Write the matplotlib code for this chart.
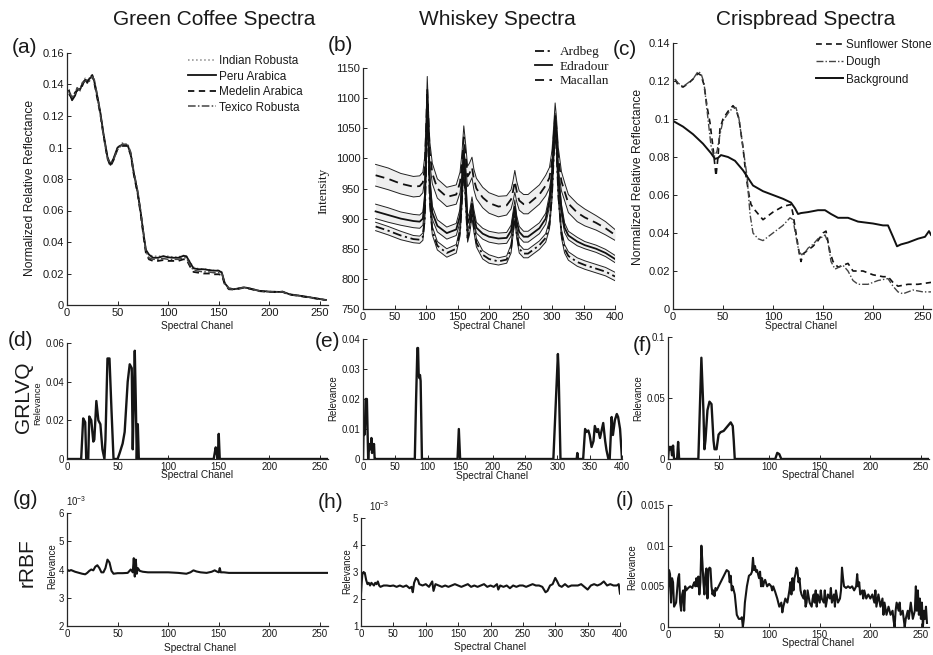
import matplotlib
matplotlib.use('Agg')
import matplotlib.pyplot as plt
from matplotlib.ticker import FuncFormatter

plt.rcParams['font.family'] = ['Liberation Sans', 'DejaVu Sans']
plt.rcParams['mathtext.fontset'] = 'custom'
plt.rcParams['mathtext.rm'] = 'Liberation Sans'
plt.rcParams['mathtext.it'] = 'Liberation Sans:italic'

# ---------------- data: (a) green coffee spectra ----------------
coffee_x = [2, 5, 8, 10, 13, 15, 18, 20, 22, 25, 27, 30, 33, 36, 40, 43, 46, 50, 55, 60,
            63, 66, 70, 73, 76, 78, 81, 85, 90, 95, 100, 105, 110, 115, 118, 122, 125, 130, 135, 140,
            145, 150, 153, 156, 160, 165, 170, 175, 180, 190, 200, 210, 213, 220, 230, 240, 250, 256]
indian_robusta = [0.137, 0.131, 0.134, 0.138, 0.137, 0.141, 0.144, 0.142, 0.144, 0.146,
                  0.142, 0.133, 0.122, 0.109, 0.094, 0.089, 0.093, 0.100, 0.103, 0.102,
                  0.096, 0.084, 0.071, 0.058, 0.044, 0.035, 0.032, 0.031, 0.031, 0.031,
                  0.031, 0.0305, 0.0305, 0.0315, 0.031, 0.027, 0.024, 0.023, 0.023, 0.0225,
                  0.022, 0.022, 0.021, 0.014, 0.0107, 0.0101, 0.0107, 0.0113, 0.0107, 0.0091,
                  0.0086, 0.0084, 0.0086, 0.0069, 0.006, 0.005, 0.0039, 0.0033]
peru_arabica = [0.136, 0.130, 0.133, 0.137, 0.137, 0.140, 0.143, 0.142, 0.1435, 0.1455,
                0.142, 0.1325, 0.122, 0.109, 0.094, 0.089, 0.093, 0.100, 0.102, 0.1013,
                0.096, 0.084, 0.071, 0.058, 0.0435, 0.035, 0.032, 0.030, 0.030, 0.031,
                0.0303, 0.030, 0.030, 0.0312, 0.031, 0.0265, 0.0233, 0.0227, 0.0227, 0.0222,
                0.0218, 0.0218, 0.0206, 0.0138, 0.0106, 0.010, 0.0106, 0.0112, 0.0106, 0.009,
                0.0085, 0.0083, 0.0085, 0.0068, 0.0059, 0.0049, 0.0038, 0.0032]
medelin_arabica = [0.134, 0.131, 0.135, 0.136, 0.138, 0.139, 0.144, 0.141, 0.144, 0.146,
                   0.141, 0.131, 0.121, 0.108, 0.093, 0.088, 0.092, 0.099, 0.101, 0.101,
                   0.095, 0.083, 0.070, 0.057, 0.042, 0.033, 0.029, 0.028, 0.028, 0.0285,
                   0.028, 0.028, 0.028, 0.029, 0.029, 0.024, 0.021, 0.0205, 0.020, 0.020,
                   0.0195, 0.0195, 0.019, 0.013, 0.010, 0.0098, 0.0103, 0.011, 0.0104, 0.0088,
                   0.0083, 0.0081, 0.0083, 0.0066, 0.0057, 0.0047, 0.0037, 0.0031]
texico_robusta = [0.135, 0.132, 0.134, 0.138, 0.136, 0.141, 0.142, 0.143, 0.142, 0.145,
                  0.143, 0.133, 0.121, 0.108, 0.093, 0.090, 0.092, 0.099, 0.102, 0.102,
                  0.097, 0.085, 0.072, 0.059, 0.044, 0.034, 0.030, 0.029, 0.029, 0.0295,
                  0.029, 0.029, 0.029, 0.030, 0.030, 0.025, 0.022, 0.0215, 0.021, 0.021,
                  0.0205, 0.0205, 0.020, 0.0135, 0.0104, 0.0099, 0.0105, 0.0111, 0.0105, 0.0089,
                  0.0084, 0.0082, 0.0084, 0.0067, 0.0058, 0.0048, 0.0037, 0.0031]

# ---------------- data: (b) whiskey spectra (mean and spread) ----------------
whisky_x = [20, 40, 60, 80, 90, 95, 98, 100, 102, 104,
            106, 110, 118, 133, 148, 154, 157, 160, 163, 166,
            169, 173, 176, 180, 190, 200, 215, 228, 235, 238,
            241, 244, 248, 255, 262, 280, 290, 296, 300, 303,
            305, 307, 310, 315, 320, 326, 340, 352, 370, 385, 400]
macallan_mean = [972, 966, 958, 953, 954, 960, 985, 1040, 1115, 1060,
                 1010, 975, 950, 936, 940, 960, 990, 1035, 1005, 970,
                 975, 985, 965, 950, 935, 926, 920, 922, 932, 945,
                 962, 945, 930, 924, 924, 940, 955, 968, 995, 1040,
                 1072, 1050, 1000, 962, 945, 925, 910, 902, 893, 884, 873]
macallan_std = [18, 18, 17, 17, 17, 17, 18, 19, 21, 19,
                18, 17, 16, 16, 16, 17, 18, 19, 18, 17,
                17, 17, 17, 17, 17, 17, 17, 16, 16, 17,
                18, 17, 16, 16, 16, 16, 17, 17, 18, 19,
                20, 19, 18, 16, 15, 15, 15, 14, 12, 11, 9]
edradour_mean = [912, 906, 900, 896, 895, 900, 930, 1000, 1100, 1030,
                 960, 910, 888, 876, 882, 905, 955, 1010, 960, 892,
                 900, 925, 905, 885, 875, 870, 867, 868, 880, 900,
                 920, 895, 878, 870, 870, 884, 900, 930, 970, 1030,
                 1062, 1040, 970, 915, 885, 872, 862, 856, 850, 843, 833]
edradour_std = [12, 12, 11, 11, 11, 11, 12, 13, 14, 13,
                12, 11, 10, 10, 10, 11, 12, 13, 12, 10,
                10, 11, 10, 9, 9, 9, 9, 9, 9, 10,
                11, 10, 9, 9, 9, 9, 9, 10, 11, 12,
                13, 12, 11, 9, 8, 7, 7, 6, 6, 6, 6]
ardbeg_mean = [887, 880, 872, 866, 865, 870, 900, 980, 1085, 1010,
               930, 880, 855, 843, 850, 878, 930, 990, 930, 868,
               880, 910, 885, 860, 840, 833, 829, 832, 850, 878,
               905, 875, 850, 842, 842, 856, 868, 890, 940, 1010,
               1048, 1020, 940, 875, 850, 838, 828, 823, 817, 812, 804]
ardbeg_std = [7, 7, 7, 6, 6, 6, 7, 8, 9, 8,
              7, 7, 7, 7, 7, 7, 8, 8, 8, 7,
              7, 7, 7, 7, 7, 7, 6, 6, 7, 7,
              8, 7, 7, 7, 7, 7, 7, 7, 8, 8,
              9, 8, 8, 7, 7, 7, 7, 7, 7, 7, 7]

# ---------------- data: (c) crispbread spectra ----------------
stone_x = [2, 5, 10, 15, 20, 25, 28, 31, 34, 37, 40, 43, 45, 47, 50, 55, 60, 63, 66, 70,
           73, 76, 78, 82, 90, 95, 100, 110, 118, 120, 123, 126, 128, 130, 135, 140, 145, 150, 153, 157,
           160, 165, 170, 175, 180, 190, 200, 210, 215, 220, 225, 235, 245, 258]
stone_y = [0.121, 0.118, 0.1168, 0.1186, 0.121, 0.124, 0.123, 0.118, 0.1067, 0.098,
           0.085, 0.070, 0.080, 0.095, 0.100, 0.104, 0.107, 0.105, 0.100, 0.085,
           0.070, 0.060, 0.055, 0.052, 0.047, 0.049, 0.051, 0.054, 0.055, 0.050,
           0.040, 0.030, 0.025, 0.029, 0.031, 0.033, 0.036, 0.040, 0.041, 0.030,
           0.025, 0.022, 0.023, 0.024, 0.020, 0.020, 0.018, 0.017, 0.017, 0.014,
           0.012, 0.013, 0.013, 0.014]
dough_x = [2, 5, 10, 15, 20, 25, 28, 31, 35, 38, 41, 44, 47, 50, 55, 60, 63, 66, 70, 74,
           77, 80, 85, 90, 95, 100, 110, 117, 120, 123, 126, 130, 135, 140, 145, 150, 152, 155, 158, 162,
           170, 175, 180, 185, 195, 205, 215, 220, 225, 230, 240, 250, 258]
dough_y = [0.121, 0.119, 0.117, 0.119, 0.121, 0.125, 0.124, 0.119, 0.100, 0.086,
           0.080, 0.083, 0.092, 0.099, 0.103, 0.106, 0.106, 0.100, 0.085, 0.070,
           0.050, 0.040, 0.037, 0.036, 0.038, 0.040, 0.044, 0.048, 0.047, 0.038,
           0.030, 0.028, 0.032, 0.034, 0.037, 0.038, 0.039, 0.035, 0.025, 0.021,
           0.023, 0.020, 0.015, 0.013, 0.013, 0.015, 0.016, 0.012, 0.009, 0.008,
           0.010, 0.009, 0.009]
background_x = [0, 10, 20, 30, 38, 42, 45, 48, 55, 62, 70, 75, 80, 90, 100, 110, 118, 122, 125, 128,
                135, 145, 152, 158, 165, 175, 185, 200, 210, 215, 220, 224, 228, 235, 245, 252, 256, 258]
background_y = [0.099, 0.096, 0.092, 0.087, 0.082, 0.079, 0.0795, 0.081, 0.080, 0.078,
                0.073, 0.069, 0.065, 0.062, 0.060, 0.058, 0.056, 0.053, 0.050, 0.0505,
                0.051, 0.052, 0.052, 0.050, 0.048, 0.048, 0.046, 0.045, 0.044, 0.044,
                0.038, 0.033, 0.034, 0.035, 0.037, 0.038, 0.041, 0.039]

# ---------------- data: GRLVQ relevances (d, e, f) ----------------
grlvq_coffee_x = [0, 14, 16, 18, 19, 21, 22, 24, 26, 27, 29, 31, 33, 35, 37, 38, 40, 42, 44, 46,
                  50, 52, 55, 57, 60, 62, 64, 65, 66, 67, 68, 69, 70, 71, 145, 147, 148, 149, 150, 151, 258]
grlvq_coffee_y = [0, 0, 0.021, 0.019, 0, 0, 0.022, 0.020, 0.009, 0.010,
                  0.030, 0.020, 0.018, 0.005, 0, 0.010, 0.052, 0.052, 0.025, 0,
                  0, 0.003, 0.008, 0.014, 0.040, 0.049, 0.047, 0.005, 0.030, 0.056,
                  0.030, 0, 0.018, 0, 0, 0.006, 0.003, 0, 0.013, 0, 0]
grlvq_whisky_x = [0, 1, 2, 3, 4, 6, 7, 8, 9, 10, 11, 12, 13, 14, 15, 16, 17, 18, 20, 80,
                  82, 84, 85, 86, 87, 88, 89, 91, 146, 148, 150, 294, 298, 301, 302, 305, 330, 331, 332, 340,
                  343, 345, 348, 350, 353, 356, 358, 361, 363, 366, 368, 371, 374, 376, 379, 381, 384, 386, 389, 392,
                  394, 397, 400]
grlvq_whisky_y = [0, 0.012, 0.008, 0.010, 0.020, 0.020, 0.010, 0, 0.005, 0.003,
                  0.005, 0.004, 0.007, 0.002, 0.005, 0.004, 0.005, 0, 0, 0,
                  0.020, 0.037, 0.037, 0.028, 0.027, 0.028, 0.026, 0, 0, 0.010,
                  0, 0, 0.020, 0.035, 0.030, 0, 0, 0.002, 0, 0,
                  0.010, 0.009, 0.0095, 0.008, 0.004, 0.006, 0.011, 0.009, 0.010, 0.007,
                  0.009, 0.012, 0.006, 0.003, 0, 0, 0.014, 0.008, 0.013, 0.015,
                  0.014, 0.010, 0]
grlvq_crisp_x = [0, 1, 2, 3, 4, 5, 6, 9, 10, 11, 30, 33, 35, 36, 37, 39, 41, 43, 45, 46,
                 48, 50, 52, 55, 57, 60, 62, 64, 65, 66, 106, 108, 110, 112, 258]
grlvq_crisp_y = [0, 0.010, 0.008, 0.010, 0.003, 0.011, 0, 0, 0.014, 0,
                 0, 0.083, 0.040, 0.008, 0.015, 0.040, 0.047, 0.045, 0.015, 0.008,
                 0.008, 0.020, 0.022, 0.023, 0.025, 0.028, 0.030, 0.027, 0.015, 0,
                 0, 0.005, 0.004, 0, 0]

# ---------------- data: rRBF relevances (g, h in units of 1e-3; i) ----------------
rrbf_coffee_x = [0, 2, 4, 6, 8, 10, 12, 15, 18, 20, 22, 24, 26, 28, 30, 32, 34, 36, 38, 40,
                 42, 44, 46, 50, 55, 60, 63, 65, 66, 67, 68, 69, 70, 72, 75, 80, 90, 100, 110, 118,
                 122, 125, 128, 132, 138, 143, 146, 148, 150, 151, 152, 155, 160, 170, 180, 200, 220, 240, 258]
rrbf_coffee_e3 = [4.0, 3.95, 3.98, 3.95, 3.92, 3.9, 3.88, 3.85, 3.83, 3.88,
                  3.95, 4.0, 3.97, 4.1, 4.15, 4.05, 3.9, 3.9, 4.05, 4.35,
                  4.25, 3.95, 3.85, 3.87, 3.87, 3.88, 4.0, 3.9, 4.4, 3.75,
                  4.35, 3.85, 4.05, 3.95, 3.92, 3.9, 3.9, 3.9, 3.88, 3.85,
                  3.9, 3.97, 3.93, 3.9, 3.88, 3.92, 3.97, 3.93, 3.9, 4.05,
                  3.9, 3.9, 3.88, 3.88, 3.88, 3.88, 3.88, 3.88, 3.88]
rrbf_whisky_x = [0, 1, 2, 4, 6, 8, 10, 12, 14, 16,
                 18, 20, 22, 24, 26, 28, 30, 35, 40, 45,
                 50, 55, 60, 65, 70, 75, 78, 80, 82, 85,
                 88, 90, 95, 100, 105, 110, 112, 115, 120, 125,
                 130, 135, 140, 145, 150, 155, 160, 165, 170, 175,
                 180, 185, 190, 195, 200, 205, 210, 212, 215, 220,
                 225, 230, 235, 240, 245, 250, 255, 260, 265, 270,
                 275, 280, 285, 288, 292, 296, 300, 303, 306, 310,
                 315, 320, 325, 330, 335, 340, 345, 350, 355, 360,
                 365, 370, 375, 380, 385, 390, 395, 398, 400]
rrbf_whisky_e3 = [2.2, 2.6, 2.9, 3.0, 2.95, 2.7, 2.55, 2.6, 2.5, 2.6,
                  2.55, 2.5, 2.6, 2.55, 2.65, 2.5, 2.45, 2.5, 2.5, 2.48,
                  2.5, 2.45, 2.5, 2.45, 2.5, 2.4, 2.45, 2.25, 2.6, 2.78,
                  2.7, 2.55, 2.5, 2.55, 2.45, 2.65, 2.3, 2.55, 2.5, 2.45,
                  2.5, 2.45, 2.5, 2.55, 2.5, 2.45, 2.5, 2.55, 2.45, 2.5,
                  2.45, 2.5, 2.55, 2.45, 2.5, 2.45, 2.55, 2.35, 2.5, 2.45,
                  2.5, 2.4, 2.5, 2.45, 2.5, 2.5, 2.45, 2.5, 2.55, 2.5,
                  2.5, 2.45, 2.25, 2.3, 2.5, 2.55, 2.78, 2.65, 2.5, 2.45,
                  2.55, 2.45, 2.5, 2.5, 2.5, 2.55, 2.45, 2.35, 2.5, 2.55,
                  2.5, 2.55, 2.65, 2.5, 2.55, 2.5, 2.5, 2.55, 2.2]
rrbf_crisp_x = [0, 1, 2, 3, 4, 5, 6, 8, 10, 11,
                12, 13, 14, 15, 16, 17, 18, 20, 22, 24,
                25, 26, 27, 28, 29, 30, 31, 32, 33, 34,
                35, 36, 37, 38, 39, 40, 41, 42, 43, 44,
                45, 46, 47, 48, 50, 52, 54, 56, 58, 60,
                61, 62, 63, 64, 66, 68, 70, 72, 73, 74,
                75, 76, 78, 80, 82, 83, 84, 85, 86, 87,
                88, 89, 90, 91, 92, 93, 94, 95, 96, 98,
                100, 102, 103, 104, 106, 108, 110, 112, 113, 114,
                116, 118, 120, 121, 122, 123, 124, 125, 126, 127,
                128, 129, 130, 131, 132, 134, 135, 136, 137, 138,
                140, 142, 143, 144, 145, 146, 147, 148, 150, 151,
                152, 154, 155, 156, 158, 160, 161, 162, 164, 165,
                166, 168, 170, 171, 172, 173, 174, 176, 178, 180,
                182, 184, 186, 187, 188, 189, 190, 192, 193, 194,
                196, 198, 200, 202, 204, 205, 206, 208, 210, 212,
                213, 214, 216, 218, 220, 222, 223, 224, 225, 226,
                228, 229, 230, 232, 234, 235, 237, 238, 240, 242,
                244, 245, 246, 247, 248, 249, 250, 251, 252, 253,
                254, 255, 256]
rrbf_crisp_y = [0.004, 0.007, 0.0065, 0.003, 0.006, 0.0055, 0.0025, 0.003, 0.006, 0.0065,
                0.003, 0.002, 0.004, 0.0045, 0.002, 0.005, 0.0045, 0.0048, 0.005, 0.0048,
                0.0052, 0.0055, 0.005, 0.006, 0.005, 0.0062, 0.004, 0.0055, 0.010, 0.008,
                0.0055, 0.004, 0.0065, 0.0072, 0.0035, 0.007, 0.0073, 0.0072, 0.005, 0.004,
                0.0045, 0.0038, 0.0048, 0.0045, 0.005, 0.0055, 0.006, 0.0065, 0.007, 0.0068,
                0.0055, 0.0063, 0.0045, 0.005, 0.004, 0.0015, 0.001, 0.001, 0.0012, 0.0,
                0.001, 0.003, 0.005, 0.0063, 0.0065, 0.0068, 0.0085, 0.007, 0.0075, 0.0068,
                0.007, 0.0065, 0.006, 0.0068, 0.005, 0.006, 0.005, 0.0055, 0.0058, 0.005,
                0.0053, 0.005, 0.0045, 0.005, 0.0043, 0.0035, 0.0025, 0.003, 0.0018, 0.0025,
                0.0035, 0.003, 0.0045, 0.0055, 0.004, 0.006, 0.0045, 0.006, 0.0065, 0.0073,
                0.007, 0.0055, 0.006, 0.0045, 0.004, 0.0035, 0.0045, 0.0025, 0.003, 0.0045,
                0.003, 0.0025, 0.0035, 0.004, 0.003, 0.0045, 0.0025, 0.004, 0.003, 0.0045,
                0.0035, 0.003, 0.0045, 0.0025, 0.004, 0.0035, 0.0048, 0.003, 0.004, 0.0025,
                0.0045, 0.003, 0.0035, 0.0045, 0.0073, 0.006, 0.005, 0.0048, 0.005, 0.0048,
                0.005, 0.0045, 0.005, 0.0065, 0.005, 0.0055, 0.004, 0.0045, 0.0035, 0.0045,
                0.0035, 0.004, 0.0035, 0.004, 0.003, 0.0045, 0.0025, 0.004, 0.0025, 0.0035,
                0.0015, 0.003, 0.0015, 0.0025, 0.0015, 0.002, 0.0008, 0.0, 0.002, 0.003,
                0.002, 0.003, 0.0015, 0.002, 0.0, 0.001, 0.002, 0.001, 0.003, 0.001,
                0.002, 0.005, 0.002, 0.0045, 0.0015, 0.0035, 0.001, 0.003, 0.0, 0.002,
                0.001, 0.0025, 0.0005]

# ---------------- text ----------------
column_titles = ['Green Coffee Spectra', 'Whiskey Spectra', 'Crispbread Spectra']
row_titles = ['GRLVQ', 'rRBF']
panel_tags = ['(a)', '(b)', '(c)', '(d)', '(e)', '(f)', '(g)', '(h)', '(i)']
coffee_labels = ['Indian Robusta', 'Peru Arabica', 'Medelin Arabica', 'Texico Robusta']
whisky_labels = ['Ardbeg', 'Edradour', 'Macallan']
crisp_labels = ['Sunflower Stone', 'Dough', 'Background']

# ---------------- layout helpers ----------------
W, H = 933, 655
AX = '#262626'
TXT = '#1a1a1a'
fig = plt.figure(figsize=(W / 100, H / 100), dpi=100)
fig.patch.set_facecolor('white')


def fx(px):
    return px / W


def fy(py):
    return 1 - py / H


def make_ax(box, xlim, ylim, xticks, yticks, fs):
    l, r, t, b = box
    ax = fig.add_axes([l / W, 1 - b / H, (r - l) / W, (b - t) / H])
    ax.set_xlim(xlim)
    ax.set_ylim(ylim)
    ax.set_xticks(xticks)
    ax.set_yticks(yticks)
    fmt = FuncFormatter(lambda v, p: f'{v:g}')
    ax.xaxis.set_major_formatter(fmt)
    ax.yaxis.set_major_formatter(fmt)
    for s in ['top', 'right']:
        ax.spines[s].set_visible(False)
    for s in ['left', 'bottom']:
        ax.spines[s].set_color(AX)
        ax.spines[s].set_linewidth(0.9)
    ax.tick_params(direction='in', length=3, width=0.7, colors=AX, labelsize=fs, pad=2,
                   labelcolor=TXT)
    ax.patch.set_visible(False)
    return ax


def set_labels(ax, box, xl, xpos, xfs, yl, ypos, yfs, yfamily=None):
    l, r, t, b = box
    ax.set_xlabel(xl, fontsize=xfs, color=TXT)
    ax.xaxis.set_label_coords((xpos[0] - l) / (r - l), (b - xpos[1]) / (b - t))
    ax.xaxis.label.set_va('center')
    kw = {}
    if yfamily:
        kw['family'] = yfamily
    ax.set_ylabel(yl, fontsize=yfs, color=TXT, **kw)
    ax.yaxis.set_label_coords((ypos[0] - l) / (r - l), (b - ypos[1]) / (b - t))
    ax.yaxis.label.set_va('center')
    ax.yaxis.label.set_ha('center')


XC = 'Spectral Chanel'
LW_SPEC = 1.3
LW_REL = 1.7

# ---------------- (a) ----------------
box_a = (67, 328, 53, 305)
ax = make_ax(box_a, (0, 258), (0, 0.16), [0, 50, 100, 150, 200, 250],
             [0, 0.02, 0.04, 0.06, 0.08, 0.1, 0.12, 0.14, 0.16], 8)
ax.plot(coffee_x, indian_robusta, ls=':', color='#8a8a8a', lw=1.1, label=coffee_labels[0])
ax.plot(coffee_x, peru_arabica, ls='-', color='#111111', lw=LW_SPEC, label=coffee_labels[1])
ax.plot(coffee_x, medelin_arabica, ls=(0, (3.5, 2.5)), color='#111111', lw=LW_SPEC, label=coffee_labels[2])
ax.plot(coffee_x, texico_robusta, ls=(0, (5, 1.5, 1, 1.5)), color='#444444', lw=1.1, label=coffee_labels[3])
set_labels(ax, box_a, XC, (197, 326), 7.3, 'Normalized Relative Reflectance', (30, 188), 8.7)
ax.legend(loc='upper left', bbox_to_anchor=(fx(188), fy(55)), bbox_transform=fig.transFigure,
          frameon=False, fontsize=8.5, handlelength=2.4, handletextpad=0.25, labelspacing=0.3,
          borderpad=0, borderaxespad=0, labelcolor=TXT)

# ---------------- (b) ----------------
box_b = (363, 615, 68, 309)
ax = make_ax(box_b, (0, 400), (750, 1150), list(range(0, 401, 50)), list(range(750, 1151, 50)), 8)
groups = [(ardbeg_mean, ardbeg_std, (0, (5, 2, 1.2, 2)), whisky_labels[0]),
          (edradour_mean, edradour_std, '-', whisky_labels[1]),
          (macallan_mean, macallan_std, (0, (5, 3)), whisky_labels[2])]
for mean, std, ls, lab in groups:
    up = [m + s for m, s in zip(mean, std)]
    lo = [m - s for m, s in zip(mean, std)]
    ax.fill_between(whisky_x, lo, up, color='#efefef', lw=0, zorder=1)
    ax.plot(whisky_x, up, color='#222222', lw=0.7, zorder=2)
    ax.plot(whisky_x, lo, color='#222222', lw=0.7, zorder=2)
for mean, std, ls, lab in groups:
    ax.plot(whisky_x, mean, ls=ls, color='#111111', lw=1.3, zorder=3, label=lab)
set_labels(ax, box_b, XC, (489, 326), 7.3, 'Intensity', (323, 191), 9.5, 'Liberation Serif')
ax.legend(loc='upper left', bbox_to_anchor=(fx(535), fy(46)), bbox_transform=fig.transFigure,
          frameon=False, prop={'family': 'Liberation Serif', 'size': 9.5}, handlelength=1.3,
          handletextpad=0.6, labelspacing=0.18, borderpad=0, borderaxespad=0, labelcolor=TXT)

# ---------------- (c) ----------------
box_c = (673, 931, 43, 309)
ax = make_ax(box_c, (0, 258), (0, 0.14), [0, 50, 100, 150, 200, 250],
             [0, 0.02, 0.04, 0.06, 0.08, 0.1, 0.12, 0.14], 8)
ax.plot(stone_x, stone_y, ls=(0, (3.5, 2.5)), color='#111111', lw=1.2, label=crisp_labels[0])
ax.plot(dough_x, dough_y, ls=(0, (5, 1.5, 1, 1.5)), color='#444444', lw=1.0, label=crisp_labels[1])
ax.plot(background_x, background_y, ls='-', color='#111111', lw=1.4, label=crisp_labels[2])
set_labels(ax, box_c, XC, (801, 326), 7.3, 'Normalized Relative Reflectance', (638, 177), 8.7)
ax.legend(loc='upper left', bbox_to_anchor=(fx(816), fy(39)), bbox_transform=fig.transFigure,
          frameon=False, fontsize=8.4, handlelength=2.35, handletextpad=0.2, labelspacing=0.45,
          borderpad=0, borderaxespad=0, labelcolor=TXT)

# ---------------- (d) ----------------
box_d = (67, 328, 343, 459)
ax = make_ax(box_d, (0, 258), (0, 0.06), [0, 50, 100, 150, 200, 250], [0, 0.02, 0.04, 0.06], 7)
ax.plot(grlvq_coffee_x, grlvq_coffee_y, color='#151515', lw=LW_REL)
set_labels(ax, box_d, XC, (197, 475), 7.3, 'Relevance', (38, 403), 6.7)

# ---------------- (e) ----------------
box_e = (363, 622, 339, 459)
ax = make_ax(box_e, (0, 400), (0, 0.04), list(range(0, 401, 50)), [0, 0.01, 0.02, 0.03, 0.04], 7)
ax.plot(grlvq_whisky_x, grlvq_whisky_y, color='#151515', lw=LW_REL)
set_labels(ax, box_e, XC, (492, 476), 7.3, 'Relevance', (333, 398), 7)

# ---------------- (f) ----------------
box_f = (668, 929, 337, 459)
ax = make_ax(box_f, (0, 258), (0, 0.1), [0, 50, 100, 150, 200, 250], [0, 0.05, 0.1], 7)
ax.plot(grlvq_crisp_x, grlvq_crisp_y, color='#151515', lw=LW_REL)
set_labels(ax, box_f, XC, (818, 475), 7.3, 'Relevance', (638, 398), 7)

# ---------------- (g) ----------------
box_g = (67, 328, 513, 626)
ax = make_ax(box_g, (0, 258), (2, 6), [0, 50, 100, 150, 200, 250], [2, 3, 4, 5, 6], 7)
ax.plot(rrbf_coffee_x, rrbf_coffee_e3, color='#151515', lw=1.5)
set_labels(ax, box_g, XC, (200, 648), 7.3, 'Relevance', (52, 566), 7)
fig.text(fx(66), fy(506), r'$\mathregular{10^{-3}}$', fontsize=7, color=TXT, ha='left', va='baseline')

# ---------------- (h) ----------------
box_h = (361, 620, 518, 626)
ax = make_ax(box_h, (0, 400), (1, 5), list(range(0, 401, 50)), [1, 2, 3, 4, 5], 7)
ax.plot(rrbf_whisky_x, rrbf_whisky_e3, color='#151515', lw=1.5)
set_labels(ax, box_h, XC, (490, 647), 7.3, 'Relevance', (347, 571), 7)
fig.text(fx(369), fy(511), r'$\mathregular{10^{-3}}$', fontsize=7, color=TXT, ha='left', va='baseline')

# ---------------- (i) ----------------
box_i = (668, 929, 505, 627)
ax = make_ax(box_i, (0, 258), (0, 0.015), [0, 50, 100, 150, 200, 250], [0, 0.005, 0.01, 0.015], 7)
ax.plot(rrbf_crisp_x, rrbf_crisp_y, color='#151515', lw=1.5)
set_labels(ax, box_i, XC, (818, 643), 7.3, 'Relevance', (632, 567), 7)

# ---------------- titles and tags ----------------
for title, cx in zip(column_titles, [214, 497, 806]):
    fig.text(fx(cx), fy(25), title, fontsize=15, color=TXT, ha='center', va='baseline')
fig.text(fx(23), fy(397), row_titles[0], fontsize=15, color=TXT, rotation=90, ha='center', va='center')
fig.text(fx(27), fy(563), row_titles[1], fontsize=15, color=TXT, rotation=90, ha='center', va='center')
tag_pos = [(12, 53), (328, 51), (613, 55), (8, 346), (315, 347), (633, 351), (13, 505), (318, 508), (616, 506)]
for tag, (px, py) in zip(panel_tags, tag_pos):
    fig.text(fx(px), fy(py), tag, fontsize=15, color=TXT, ha='left', va='baseline')

fig.savefig('out.png', dpi=100, facecolor='white')
